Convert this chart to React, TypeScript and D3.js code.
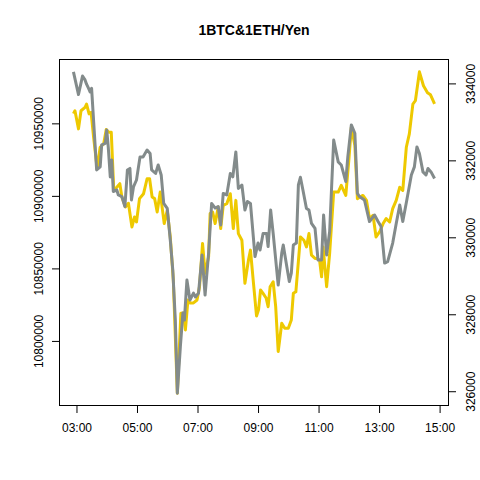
import React, { useEffect, useRef } from 'react';
import * as d3 from 'd3';

// BTC price (left axis, yen)
const btcTimes = [
    '02:54', '02:57', '03:04', '03:09', '03:17', '03:20', '03:25', '03:29', '03:34', '03:41',
    '03:47', '03:54', '03:59', '04:04', '04:09', '04:14', '04:20', '04:26', '04:30', '04:37',
    '04:43', '04:50', '04:55', '04:59', '05:05', '05:13', '05:20', '05:25', '05:30', '05:35',
    '05:40', '05:46', '05:54', '06:00', '06:06', '06:12', '06:20', '06:27', '06:32', '06:36',
    '06:41', '06:45', '06:52', '06:59', '07:04', '07:10', '07:15', '07:22', '07:25', '07:30',
    '07:35', '07:41', '07:46', '07:51', '07:58', '08:05', '08:11', '08:16', '08:21', '08:28',
    '08:34', '08:41', '08:45', '08:51', '08:57', '09:01', '09:05', '09:10', '09:16', '09:20',
    '09:24', '09:30', '09:35', '09:40', '09:47', '09:53', '10:00', '10:06', '10:10', '10:15',
    '10:24', '10:31', '10:36', '10:41', '10:46', '10:53', '10:57', '11:02', '11:06', '11:09',
    '11:16', '11:22', '11:30', '11:39', '11:45', '11:54', '12:00', '12:05', '12:12', '12:17',
    '12:21', '12:28', '12:35', '12:41', '12:48', '12:54', '13:01', '13:08', '13:14', '13:21',
    '13:27', '13:34', '13:41', '13:47', '13:54', '14:00', '14:07', '14:12', '14:20', '14:28',
    '14:36', '14:42', '14:50',
];
const btcValues = [
    10956700, 10958700, 10946200, 10958700, 10961000, 10963300, 10956500, 10957600, 10940400, 10918900,
    10933500, 10935900, 10945700, 10943800, 10943800, 10903800, 10906000, 10908400, 10899200, 10892300,
    10894900, 10878600, 10885400, 10882000, 10898100, 10901500, 10911800, 10911800, 10899200, 10898100,
    10888900, 10902600, 10880900, 10890000, 10871700, 10842000, 10764000, 10819100, 10819300, 10807600,
    10828200, 10826200, 10826200, 10828200, 10837400, 10867200, 10846600, 10858000, 10887800, 10888900,
    10880900, 10892300, 10877500, 10893500, 10894600, 10901500, 10877500, 10896900, 10874000, 10869400,
    10839700, 10855700, 10862600, 10839700, 10817200, 10821400, 10835100, 10832800, 10829600, 10823600,
    10837400, 10840800, 10823600, 10792700, 10812200, 10808800, 10808800, 10814500, 10832800, 10833900,
    10871700, 10869400, 10864800, 10874000, 10859100, 10856900, 10856900, 10855700, 10844200, 10864800,
    10837400, 10860300, 10902600, 10902600, 10907200, 10900300, 10924400, 10947300, 10934700, 10898100,
    10899000, 10900300, 10896900, 10884300, 10886600, 10871700, 10875100, 10880900, 10884300, 10882000,
    10891200, 10896900, 10906000, 10903800, 10933500, 10942700, 10963300, 10965600, 10985500, 10975900,
    10971100, 10969700, 10963500,
];

// ETH price (right axis, yen)
const ethTimes = [
    '02:54', '03:04', '03:12', '03:17', '03:20', '03:24', '03:27', '03:30', '03:40', '03:47',
    '03:50', '03:57', '04:00', '04:03', '04:07', '04:10', '04:13', '04:20', '04:23', '04:30',
    '04:36', '04:41', '04:46', '04:49', '04:53', '04:59', '05:06', '05:12', '05:20', '05:26',
    '05:29', '05:37', '05:42', '05:48', '05:53', '06:00', '06:06', '06:11', '06:16', '06:20',
    '06:26', '06:31', '06:34', '06:39', '06:45', '06:52', '06:56', '07:02', '07:09', '07:15',
    '07:22', '07:28', '07:35', '07:41', '07:46', '07:51', '07:58', '08:05', '08:10', '08:16',
    '08:21', '08:28', '08:34', '08:39', '08:45', '08:54', '09:00', '09:04', '09:10', '09:17',
    '09:20', '09:25', '09:30', '09:40', '09:47', '09:50', '09:57', '10:02', '10:06', '10:10',
    '10:16', '10:20', '10:24', '10:29', '10:36', '10:41', '10:46', '10:53', '10:59', '11:06',
    '11:10', '11:16', '11:22', '11:30', '11:39', '11:45', '11:54', '11:58', '12:05', '12:12',
    '12:17', '12:21', '12:31', '12:41', '12:51', '12:58', '13:04', '13:11', '13:17', '13:27',
    '13:34', '13:41', '13:47', '13:55', '14:04', '14:10', '14:15', '14:20', '14:27', '14:33',
    '14:37', '14:43', '14:50',
];
const ethValues = [
    334300, 333710, 334190, 334090, 333980, 333870, 333780, 333870, 331750, 331830,
    332400, 332440, 332790, 332350, 331570, 332010, 331190, 331230, 331100, 331060,
    330800, 331750, 331790, 330970, 331310, 331490, 332090, 332090, 332270, 332180,
    331750, 331660, 331880, 331620, 330880, 330750, 329930, 329150, 327850, 325950,
    327160, 328030, 327850, 328890, 328370, 328550, 328450, 328550, 329540, 328500,
    329590, 330880, 330760, 330800, 330320, 331140, 331100, 331660, 331570, 332220,
    331270, 331360, 330710, 330930, 330880, 329500, 329850, 329670, 330100, 330100,
    329760, 330710, 330100, 328760, 329590, 329800, 329240, 328850, 329070, 329800,
    329850, 331360, 331560, 331230, 330750, 330710, 330360, 330230, 329410, 329410,
    330580, 329540, 330150, 332530, 331960, 331880, 331450, 332090, 332920, 332700,
    331140, 331060, 330970, 330410, 330580, 330410, 330280, 329330, 329370, 329850,
    330360, 330840, 330410, 330970, 331620, 331830, 332350, 332180, 331700, 331620,
    331790, 331700, 331530,
];

const timeTicks = ['03:00', '05:00', '07:00', '09:00', '11:00', '13:00', '15:00'];
const btcTicks = [10800000, 10850000, 10900000, 10950000];
const ethTicks = [326000, 328000, 330000, 332000, 334000];

const title = '1BTC&1ETH/Yen';

const width = 480;
const height = 480;
const margin = { top: 59, right: 31, bottom: 74, left: 59 };

const parseTime = d3.timeParse('%H:%M');

// R-style 4% padding around the data range
function padded(ext: [number, number]): [number, number] {
    const p = (ext[1] - ext[0]) * 0.04;
    return [ext[0] - p, ext[1] + p];
}

export default function App() {
    const ref = useRef<SVGSVGElement>(null);

    useEffect(() => {
        const svg = d3.select(ref.current);
        svg.selectAll('*').remove();

        const btc = btcTimes.map((t, i) => ({ date: parseTime(t) as Date, value: btcValues[i] }));
        const eth = ethTimes.map((t, i) => ({ date: parseTime(t) as Date, value: ethValues[i] }));

        const allDates = [...btc, ...eth].map(d => +d.date);
        const xExt = padded(d3.extent(allDates) as [number, number]);

        const x = d3.scaleTime()
            .domain([new Date(xExt[0]), new Date(xExt[1])])
            .range([margin.left, width - margin.right]);

        const yL = d3.scaleLinear()
            .domain(padded(d3.extent(btcValues) as [number, number]))
            .range([height - margin.bottom, margin.top]);

        const yR = d3.scaleLinear()
            .domain(padded(d3.extent(ethValues) as [number, number]))
            .range([height - margin.bottom, margin.top]);

        const font = "'Liberation Sans', Arial, Helvetica, sans-serif";

        // Title
        svg.append('text')
            .attr('x', (margin.left + width - margin.right) / 2)
            .attr('y', 35)
            .attr('text-anchor', 'middle')
            .attr('font-family', font)
            .attr('font-size', 14)
            .attr('font-weight', 'bold')
            .text(title);

        // Lines
        const lineL = d3.line<{ date: Date; value: number }>()
            .x(d => x(d.date))
            .y(d => yL(d.value));
        const lineR = d3.line<{ date: Date; value: number }>()
            .x(d => x(d.date))
            .y(d => yR(d.value));

        svg.append('path')
            .attr('fill', 'none')
            .attr('stroke', '#EEC900')
            .attr('stroke-width', 3)
            .attr('stroke-linejoin', 'round')
            .attr('d', lineL(btc));

        svg.append('path')
            .attr('fill', 'none')
            .attr('stroke', '#838B8B')
            .attr('stroke-width', 3)
            .attr('stroke-linejoin', 'round')
            .attr('d', lineR(eth));

        // Bottom axis
        svg.append('g')
            .attr('transform', `translate(0,${height - margin.bottom})`)
            .call(d3.axisBottom(x)
                .tickValues(timeTicks.map(t => parseTime(t) as Date))
                .tickFormat(d3.timeFormat('%H:%M') as any)
                .tickSize(7)
                .tickPadding(10))
            .call(g => g.select('.domain').remove())
            .call(g => g.selectAll('text').attr('font-family', font).attr('font-size', 12).attr('fill', '#000'));

        // Left axis with rotated labels
        svg.append('g')
            .attr('transform', `translate(${margin.left},0)`)
            .call(d3.axisLeft(yL).tickValues(btcTicks).tickFormat(d3.format('d')).tickSize(7))
            .call(g => g.select('.domain').remove())
            .call(g => g.selectAll('.tick text')
                .attr('x', 0)
                .attr('dy', null)
                .attr('y', 0)
                .attr('transform', 'translate(-16,0) rotate(-90)')
                .attr('text-anchor', 'middle')
                .attr('font-family', font)
                .attr('font-size', 12)
                .attr('fill', '#000'));

        // Right axis with rotated labels
        svg.append('g')
            .attr('transform', `translate(${width - margin.right},0)`)
            .call(d3.axisRight(yR).tickValues(ethTicks).tickFormat(d3.format('d')).tickSize(7))
            .call(g => g.select('.domain').remove())
            .call(g => g.selectAll('.tick text')
                .attr('x', 0)
                .attr('dy', null)
                .attr('y', 0)
                .attr('transform', 'translate(26,0) rotate(-90)')
                .attr('text-anchor', 'middle')
                .attr('font-family', font)
                .attr('font-size', 12)
                .attr('fill', '#000'));

        // Plot box
        svg.append('rect')
            .attr('x', margin.left + 0.5)
            .attr('y', margin.top + 0.5)
            .attr('width', width - margin.left - margin.right - 1)
            .attr('height', height - margin.top - margin.bottom - 1)
            .attr('fill', 'none')
            .attr('stroke', '#000')
            .attr('stroke-width', 1);
    }, []);

    return (
        <svg
            ref={ref}
            width={width}
            height={height}
            viewBox={`0 0 ${width} ${height}`}
            style={{ position: 'absolute', left: 0, top: 0, background: '#fff' }}
        />
    );
}
